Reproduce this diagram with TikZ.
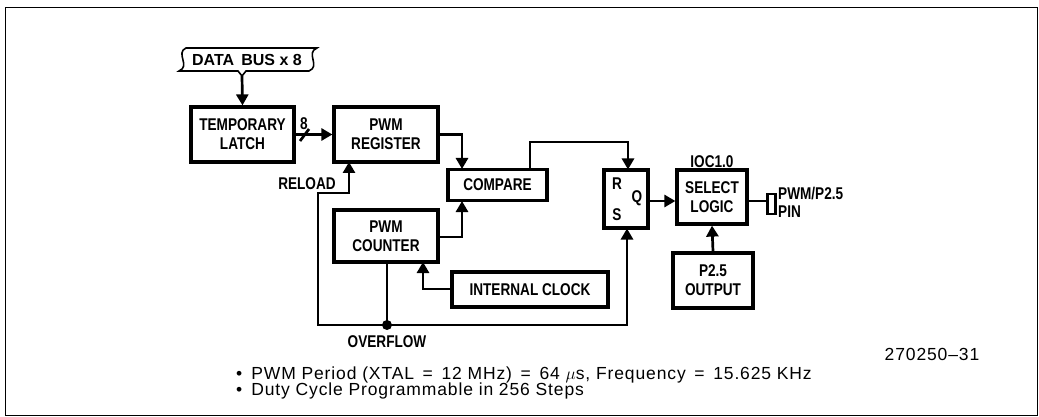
\documentclass[tikz,border=0pt]{standalone}
\usepackage{fontspec}
\setmainfont{Liberation Sans}
\newfontfamily\blkfont[FakeStretch=0.8]{Liberation Sans}
\newfontfamily\busfont{Liberation Sans}
\newfontfamily\notefont[LetterSpace=5]{Liberation Sans}
\usetikzlibrary{arrows.meta}

\begin{document}
\begin{tikzpicture}[x=1pt,y=-1pt,
    blk/.style={draw,line width=3.2pt,align=center,inner sep=0pt,
                font=\blkfont\bfseries\fontsize{17}{19}\selectfont},
    lbl/.style={font=\blkfont\bfseries\fontsize{17}{18}\selectfont,inner sep=0pt},
    wire/.style={line width=2.7pt},
    sig/.style={wire,-{Triangle[length=11pt,width=12pt]}},
    note/.style={font=\notefont\fontsize{17.5}{16}\selectfont,inner sep=0pt,anchor=west}]
  \useasboundingbox (0,0) rectangle (1039,417);
  \draw[line width=0.8pt] (5,7) rectangle (1037,415);

  % data bus banner
  \draw[line width=1.6pt] (186,48) -- (317,48)
    .. controls (305,53) and (321,66) .. (309,71) -- (246,71) -- (242,76)
    -- (238,71) -- (179,71) .. controls (191,66) and (175,53) .. (186,48) -- cycle;
  \node[font=\busfont\bfseries\fontsize{16}{18}\selectfont,inner sep=0pt] (bus) at (247,60) {DATA\, BUS x 8};
  \coordinate (busout) at (242,76);

  % blocks
  \node[blk,minimum width=103pt,minimum height=55pt] (latch) at (242.5,134.5) {TEMPORARY\\LATCH};
  \node[blk,minimum width=104pt,minimum height=55pt] (reg) at (386,134.5) {PWM\\REGISTER};
  \node[blk,minimum width=99pt,minimum height=31pt] (cmp) at (497.5,185) {COMPARE};
  \node[blk,minimum width=104pt,minimum height=52pt] (cnt) at (386,236) {PWM\\COUNTER};
  \node[blk,minimum width=156pt,minimum height=35pt] (clk) at (530,289.5) {INTERNAL CLOCK};
  \node[blk,minimum width=44pt,minimum height=58pt] (rs) at (626,199) {};
  \node[blk,minimum width=70pt,minimum height=54pt] (sel) at (712,197) {SELECT\\LOGIC};
  \node[blk,minimum width=80pt,minimum height=55pt] (p25) at (713,280.5) {P2.5\\OUTPUT};
  \node[draw,line width=2.2pt,minimum width=8pt,minimum height=20pt,inner sep=0pt] (pin) at (771.5,204) {};

  \node[lbl] at (617,184) {R};
  \node[lbl] at (617,215) {S};
  \node[lbl] at (637,198) {Q};

  % labels
  \node[lbl] at (304,124) {8};
  \node[lbl] at (307,184) {RELOAD};
  \node[lbl] at (387,342) {OVERFLOW};
  \node[lbl] at (712,162) {IOC1.0};
  \node[lbl,anchor=west] at (778,194) {PWM/P2.5};
  \node[lbl,anchor=west] at (778,212) {PIN};

  % connections
  \draw[sig] (busout) -- (latch.north);
  \draw[sig] (latch.east) -- (reg.west);
  \draw[wire] (300,141) -- (309,129);
  \draw[sig] (reg.east) -| (462,169);
  \draw[sig] (cnt.east |- 0,237) -| (462,201);
  \draw[sig] (cmp.north -| 530,0) |- (628,142) -- (628,169.5);
  \draw[sig] (rs.east |- 0,201) -- (sel.west |- 0,201);
  \draw[wire] (sel.east |- 0,201) -- (pin.west |- 0,201);
  \draw[sig] (p25.north) -- (sel.south);
  \draw[sig] (clk.west |- 0,289) -| (423,262);
  \coordinate (ovf) at (387,325);
  \draw[wire] (cnt.south -| ovf) -- (ovf);
  \fill (ovf) circle (5pt);
  \draw[sig] (ovf) -| (318,193) -| (349,162);
  \draw[sig] (ovf) -| (627,228.5);

  % notes
  \node[note] at (236,375) {\textbullet\hspace{9pt}PWM Period (XTAL \,=\, 12 MHz) \,=\, 64 $\mu$s, Frequency \,=\, 15.625 KHz};
  \node[note] at (236,391) {\textbullet\hspace{9pt}Duty Cycle Programmable in 256 Steps};
  \node[note,anchor=center] at (932,354) {270250–31};
\end{tikzpicture}
\end{document}
